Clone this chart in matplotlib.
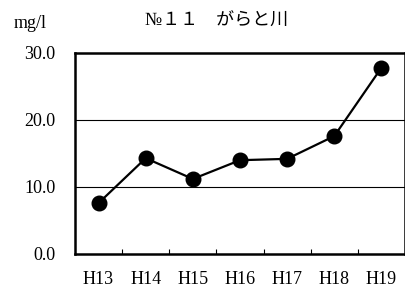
import numpy as np
import matplotlib.pyplot as plt
from matplotlib.ticker import FixedLocator

plt.rcParams['font.family'] = ['Liberation Serif', 'Noto Sans CJK JP', 'DejaVu Sans']

years = ['H13', 'H14', 'H15', 'H16', 'H17', 'H18', 'H19']
values = [7.6, 14.3, 11.2, 14.0, 14.2, 17.6, 27.8]
title = '№１１\u3000がらと川'
unit = 'mg/l'

fig = plt.figure(figsize=(4.05, 2.9), dpi=100)
ax = fig.add_axes([75 / 405, 1 - 254 / 290, 330 / 405, 201 / 290])

x = np.arange(len(years))
ax.plot(x, values, color='black', linewidth=1.6, marker='o', markersize=10.5,
        markerfacecolor='black', markeredgecolor='black', clip_on=False, zorder=3)

ax.set_xlim(-0.5, len(years) - 0.5)
ax.set_ylim(0, 30)
ax.set_yticks([0, 10, 20, 30])
ax.set_yticklabels(['%.1f' % v for v in [0, 10, 20, 30]], fontsize=13)
ax.tick_params(axis='y', length=0, pad=14)
ax.set_xticks(x)
ax.set_xticklabels(years, fontsize=13)
ax.tick_params(axis='x', which='major', length=0, pad=12)
ax.xaxis.set_minor_locator(FixedLocator(np.arange(0.5, len(years) - 1, 1.0)))
ax.tick_params(axis='x', which='minor', direction='in', length=3.5, width=0.8)

for y in [10, 20]:
    ax.axhline(y, color='black', linewidth=0.8, zorder=1)
for s in ax.spines.values():
    s.set_linewidth(1.8)

fig.text(217 / 405, 1 - 21 / 290, title, ha='center', va='center', fontsize=13)
fig.text(30 / 405, 1 - 24 / 290, unit, ha='center', va='center', fontsize=13)

fig.savefig('out.png', dpi=100)
